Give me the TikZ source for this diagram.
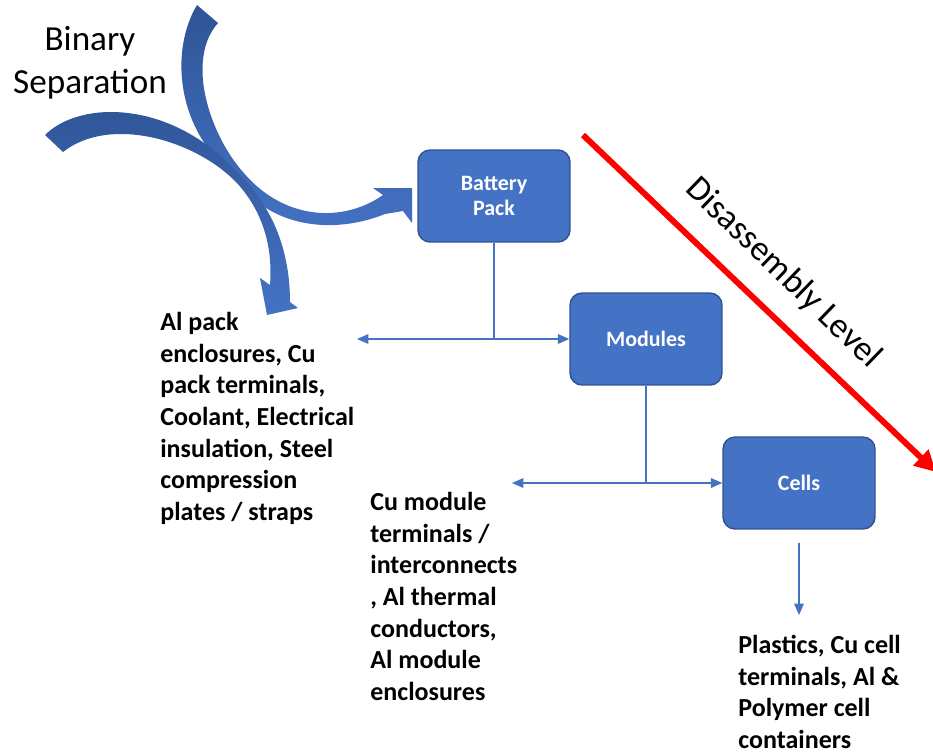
\documentclass[tikz,border=0pt]{standalone}
\usepackage{fontspec}
\setmainfont{Carlito}
\usetikzlibrary{arrows.meta}

\definecolor{boxblue}{HTML}{4472C4}
\definecolor{boxedge}{HTML}{2F528F}
\definecolor{arrdark}{HTML}{2F5597}
\definecolor{lvlred}{HTML}{FF0000}

\tikzset{
    stage/.style={rectangle, rounded corners=0.24cm, fill=boxblue, draw=boxedge,
        line width=0.8pt, minimum width=3.04cm, minimum height=1.84cm,
        text=white, align=center, font=\fontsize{12.5}{14.7}\selectfont\bfseries},
    yield/.style={anchor=north west, inner sep=0pt, align=left,
        font=\fontsize{14.8}{18}\selectfont\bfseries},
    conn/.style={draw=boxblue, line width=0.7pt, -{Triangle[length=6.5pt,width=5.5pt]}},
    bigarrow/.style={top color=arrdark, bottom color=boxblue, draw=none}
}

\begin{document}
\begin{tikzpicture}[x=0.02cm, y=-0.02cm]
        \useasboundingbox (0,0) rectangle (933,754);

        % Binary separation arrows
        \path[bigarrow] (197,5) .. controls (170,50) and (175,130) .. (236,177)
            .. controls (262,222) and (325,238) .. (385,214)
            -- (403,211) -- (412,223) -- (412,188) -- (373,188) -- (383,195)
            .. controls (345,222) and (285,222) .. (243,172)
            .. controls (210,135) and (185,60) .. (218,23) -- cycle;
        \path[bigarrow] (45,135) .. controls (80,100) and (170,100) .. (235,170)
            .. controls (265,198) and (290,240) .. (290,302)
            -- (298,308) -- (267,315) -- (260,278) -- (270,285)
            .. controls (273,245) and (262,210) .. (236,182)
            .. controls (195,140) and (110,115) .. (63,152) -- cycle;
        \node[anchor=north, inner sep=0pt, align=center, font=\fontsize{20}{24.4}\selectfont]
            (binsep) at (90,26) {Binary\\Separation};

        % Stages
        \node[stage] (pack) at (494,196) {Battery\\Pack};
        \node[stage] (modules) at (646,339) {Modules};
        \node[stage] (cells) at (799,483) {Cells};

        % Recovered materials
        \node[yield] (packout) at (160,312) {Al pack\\enclosures, Cu\\pack terminals,\\Coolant, Electrical\\insulation, Steel\\compression\\plates / straps};
        \node[yield] (modout) at (370,492) {Cu module\\terminals /\\interconnects\\, Al thermal\\conductors,\\Al module\\enclosures};
        \node[yield] (cellout) at (738,635) {Plastics, Cu cell\\terminals, Al \&\\Polymer cell\\containers};

        % Connectors
        \coordinate (packleft) at (357,339);
        \coordinate (modleft) at (512,483);
        \coordinate (celldown) at (799,615);
        \draw[conn] (pack.south) |- (packleft);
        \draw[conn] (pack.south) |- (modules.west);
        \draw[conn] (modules.south) |- (modleft);
        \draw[conn] (modules.south) |- (cells.west);
        \draw[conn, shorten <=7.4pt] (cells.south) -- (celldown);

        % Disassembly level
        \coordinate (lvltop) at (583,135);
        \coordinate (lvlend) at (936,472);
        \draw[lvlred, line width=3.4pt, -{Triangle[length=12pt,width=12pt]}] (lvltop) -- (lvlend);
        \node[rotate=-44, font=\fontsize{20}{24}\selectfont] (lvl) at (783,273) {Disassembly Level};
    \end{tikzpicture}
\end{document}
